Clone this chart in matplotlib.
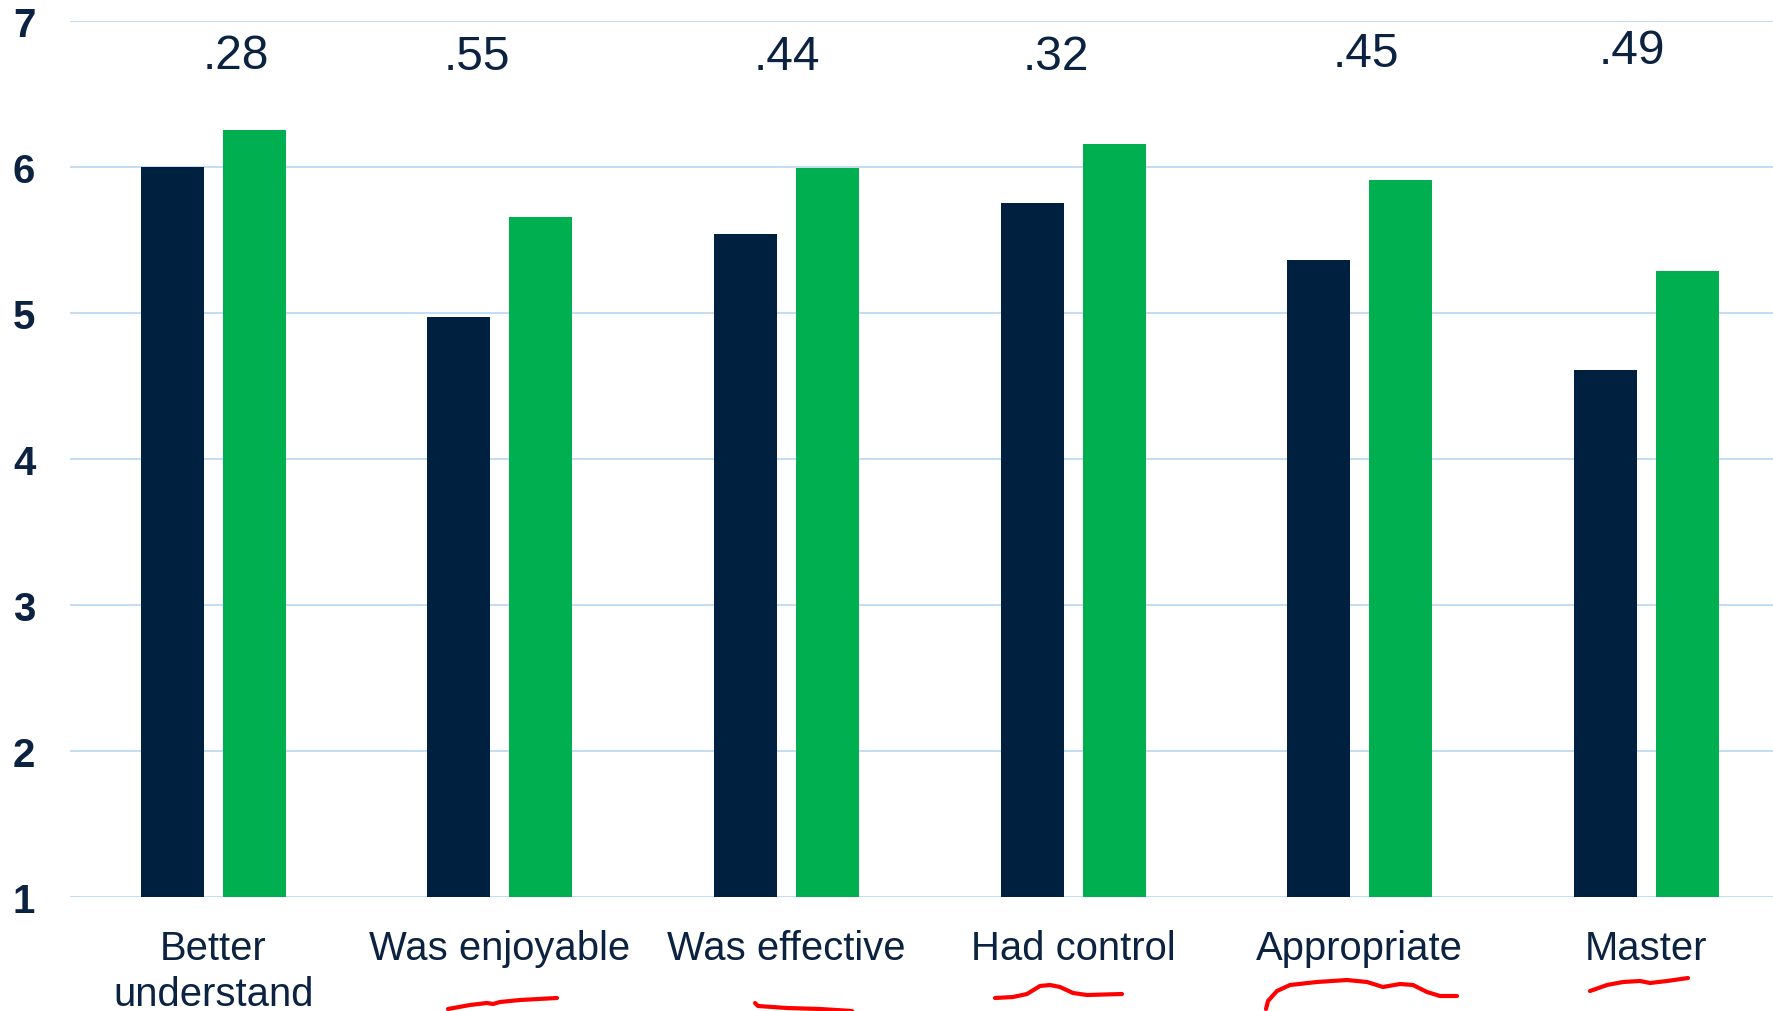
import matplotlib
matplotlib.use("Agg")
import matplotlib.pyplot as plt
from matplotlib.lines import Line2D
import numpy as np

plt.rcParams["font.family"] = ["Liberation Sans", "DejaVu Sans"]

# Survey items and mean ratings (1-7 scale)
categories = ["Better\nunderstand", "Was enjoyable", "Was effective",
              "Had control", "Appropriate", "Master"]
series_dark = [6.00, 4.97, 5.54, 5.75, 5.36, 4.61]
series_green = [6.25, 5.66, 5.99, 6.16, 5.91, 5.29]
effect_labels = [".28", ".55", ".44", ".32", ".45", ".49"]
effect_dx = [0.08, -0.08, 0.0, -0.06, 0.02, -0.05]
effect_y = [6.765, 6.755, 6.755, 6.755, 6.775, 6.80]
yticks = [1, 2, 3, 4, 5, 6, 7]

DARK = "#002040"
GREEN = "#00B050"
TEXT = "#0B2341"
GRID = "#C2DDF5"

W, H = 1773, 1012
fig = plt.figure(figsize=(W / 100, H / 100), dpi=100)
ax = fig.add_axes([70 / W, 1 - 897.7 / H, 6 * 286.6 / W, (897.7 - 22) / H])

x = np.arange(len(categories))
bw = 0.22
off = 0.143
ax.bar(x - off, series_dark, width=bw, color=DARK, zorder=3)
ax.bar(x + off, series_green, width=bw, color=GREEN, zorder=3)

for xi, lab, dx, yy in zip(x, effect_labels, effect_dx, effect_y):
    ax.text(xi + dx, yy, lab, ha="center", va="center", fontsize=34.5,
            color=TEXT, zorder=4)

ax.set_xlim(-0.5, len(categories) - 0.5)
ax.set_ylim(1, 7)
ax.set_yticks(yticks)
ax.set_yticklabels([str(t) for t in yticks], fontsize=29, fontweight="bold",
                   color=TEXT)
ax.set_xticks(x)
ax.set_xticklabels(categories, fontsize=28.8, color=TEXT, linespacing=1.28)
ax.tick_params(axis="both", length=0)
ax.tick_params(axis="y", pad=25)
ax.tick_params(axis="x", pad=23)

ax.yaxis.grid(True, color=GRID, linewidth=1.4, zorder=0)
ax.set_axisbelow(True)
for s in ax.spines.values():
    s.set_visible(False)

# Hand-drawn red underlines beneath several item labels (figure pixels)
strokes = [
    [(448, 1010), (470, 1006), (487, 1004), (493, 1005), (500, 1003),
     (520, 1001), (557, 999)],
    [(755, 1004), (758, 1007), (787, 1009), (820, 1010), (852, 1012)],
    [(995, 999), (1013, 998), (1027, 995), (1040, 987), (1050, 986),
     (1060, 988), (1073, 994), (1087, 996), (1122, 995)],
    [(1266, 1010), (1268, 1002), (1277, 992), (1290, 986), (1317, 983),
     (1347, 981), (1367, 983), (1383, 988), (1400, 985), (1413, 986),
     (1427, 993), (1440, 997), (1457, 997)],
    [(1590, 992), (1607, 986), (1623, 983), (1640, 982), (1650, 984),
     (1667, 982), (1688, 979)],
]
for pts in strokes:
    xs = [p[0] / W for p in pts]
    ys = [1 - p[1] / H for p in pts]
    fig.add_artist(Line2D(xs, ys, transform=fig.transFigure, color="#FF0000",
                          linewidth=3.0, solid_capstyle="round",
                          solid_joinstyle="round"))

fig.savefig("out.png", dpi=100)
